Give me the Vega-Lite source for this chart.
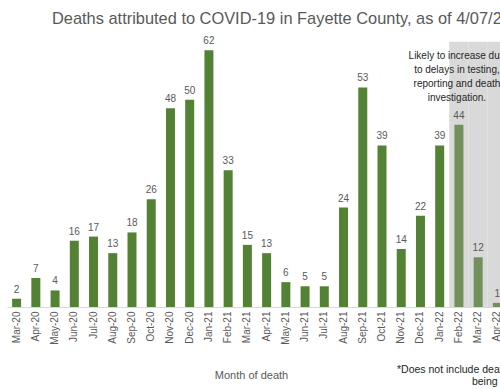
{
  "$schema": "https://vega.github.io/schema/vega-lite/v6.json",
  "width": 500,
  "height": 267,
  "autosize": {"type": "none"},
  "padding": {"left": 0, "top": 40, "right": 0, "bottom": 82},
  "background": "white",
  "config": {"view": {"stroke": null}, "font": "Liberation Sans"},
  "title": {
    "text": "Deaths attributed to COVID-19 in Fayette County, as of 4/07/22*",
    "anchor": "start",
    "frame": "group",
    "dx": 52,
    "dy": 21,
    "offset": 17,
    "baseline": "alphabetic",
    "fontSize": 16.4,
    "fontWeight": "normal",
    "font": "Liberation Sans",
    "color": "#595959"
  },
  "datasets": {
    "deaths": [
      {"month": "Mar-20", "deaths": 2, "period": "final"},
      {"month": "Apr-20", "deaths": 7, "period": "final"},
      {"month": "May-20", "deaths": 4, "period": "final"},
      {"month": "Jun-20", "deaths": 16, "period": "final"},
      {"month": "Jul-20", "deaths": 17, "period": "final"},
      {"month": "Aug-20", "deaths": 13, "period": "final"},
      {"month": "Sep-20", "deaths": 18, "period": "final"},
      {"month": "Oct-20", "deaths": 26, "period": "final"},
      {"month": "Nov-20", "deaths": 48, "period": "final"},
      {"month": "Dec-20", "deaths": 50, "period": "final"},
      {"month": "Jan-21", "deaths": 62, "period": "final"},
      {"month": "Feb-21", "deaths": 33, "period": "final"},
      {"month": "Mar-21", "deaths": 15, "period": "final"},
      {"month": "Apr-21", "deaths": 13, "period": "final"},
      {"month": "May-21", "deaths": 6, "period": "final"},
      {"month": "Jun-21", "deaths": 5, "period": "final"},
      {"month": "Jul-21", "deaths": 5, "period": "final"},
      {"month": "Aug-21", "deaths": 24, "period": "final"},
      {"month": "Sep-21", "deaths": 53, "period": "final"},
      {"month": "Oct-21", "deaths": 39, "period": "final"},
      {"month": "Nov-21", "deaths": 14, "period": "final"},
      {"month": "Dec-21", "deaths": 22, "period": "final"},
      {"month": "Jan-22", "deaths": 39, "period": "final"},
      {"month": "Feb-22", "deaths": 44, "period": "recent"},
      {"month": "Mar-22", "deaths": 12, "period": "recent"},
      {"month": "Apr-22", "deaths": 1, "period": "recent"}
    ],
    "shade": [
      {"month": "Feb-22", "top": 64},
      {"month": "Mar-22", "top": 64},
      {"month": "Apr-22", "top": 64}
    ],
    "note": [
      {"month": "Feb-22", "pos": 61.8, "text": "Likely to increase due\nto delays in testing,\nreporting and death\ninvestigation."}
    ],
    "foot1": [{"month": "Oct-21", "pos": -15.2, "text": "*Does not include deaths"}],
    "foot2": [{"month": "Feb-22", "pos": -18.1, "text": "being investigated"}]
  },
  "encoding": {
    "x": {
      "field": "month",
      "type": "nominal",
      "sort": null,
      "scale": {
        "domain": ["Mar-20","Apr-20","May-20","Jun-20","Jul-20","Aug-20","Sep-20","Oct-20","Nov-20","Dec-20","Jan-21","Feb-21","Mar-21","Apr-21","May-21","Jun-21","Jul-21","Aug-21","Sep-21","Oct-21","Nov-21","Dec-21","Jan-22","Feb-22","Mar-22","Apr-22"],
        "range": [7, 507],
        "paddingInner": 0,
        "paddingOuter": 0
      },
      "axis": {
        "title": "Month of death",
        "titleFontSize": 11,
        "titleFontWeight": "normal",
        "titleColor": "#595959",
        "titleX": 251,
        "titleY": 68,
        "titleBaseline": "middle",
        "labelAngle": -90,
        "labelAlign": "right",
        "labelBaseline": "middle",
        "labelFontSize": 10,
        "labelColor": "#595959",
        "labelPadding": 4,
        "ticks": false,
        "domainColor": "#d9d9d9",
        "domainWidth": 1,
        "grid": false
      }
    }
  },
  "layer": [
    {
      "data": {"name": "shade"},
      "mark": {"type": "bar", "width": {"band": 1}, "color": "#d9d9d9"},
      "encoding": {
        "y": {"field": "top", "type": "quantitative", "scale": {"domain": [0, 64.45], "nice": false, "zero": true}, "axis": null}
      }
    },
    {
      "data": {"name": "deaths"},
      "mark": {"type": "bar", "width": 9},
      "encoding": {
        "y": {"field": "deaths", "type": "quantitative", "scale": {"domain": [0, 64.45], "nice": false, "zero": true}, "axis": null},
        "color": {"field": "period", "type": "nominal", "scale": {"domain": ["final", "recent"], "range": ["#548235", "#71905c"]}, "legend": null}
      }
    },
    {
      "data": {"name": "deaths"},
      "mark": {"type": "text", "baseline": "bottom", "dy": -4, "fontSize": 10, "color": "#595959"},
      "encoding": {
        "y": {"field": "deaths", "type": "quantitative", "scale": {"domain": [0, 64.45], "nice": false, "zero": true}, "axis": null},
        "text": {"field": "deaths", "type": "quantitative"}
      }
    },
    {
      "data": {"name": "note"},
      "mark": {"type": "text", "baseline": "top", "align": "center", "dx": -2, "fontSize": 10, "lineHeight": 14, "color": "#262626", "lineBreak": "\n"},
      "encoding": {
        "y": {"field": "pos", "type": "quantitative", "scale": {"domain": [0, 64.45], "nice": false, "zero": true}, "axis": null},
        "text": {"field": "text", "type": "nominal"}
      }
    },
    {
      "data": {"name": "foot1"},
      "mark": {"type": "text", "baseline": "middle", "align": "left", "dx": 15, "fontSize": 10.5, "color": "#262626"},
      "encoding": {
        "y": {"field": "pos", "type": "quantitative", "scale": {"domain": [0, 64.45], "nice": false, "zero": true}, "axis": null},
        "text": {"field": "text", "type": "nominal"}
      }
    },
    {
      "data": {"name": "foot2"},
      "mark": {"type": "text", "baseline": "middle", "align": "left", "dx": 13, "fontSize": 10.5, "color": "#262626"},
      "encoding": {
        "y": {"field": "pos", "type": "quantitative", "scale": {"domain": [0, 64.45], "nice": false, "zero": true}, "axis": null},
        "text": {"field": "text", "type": "nominal"}
      }
    }
  ]
}
